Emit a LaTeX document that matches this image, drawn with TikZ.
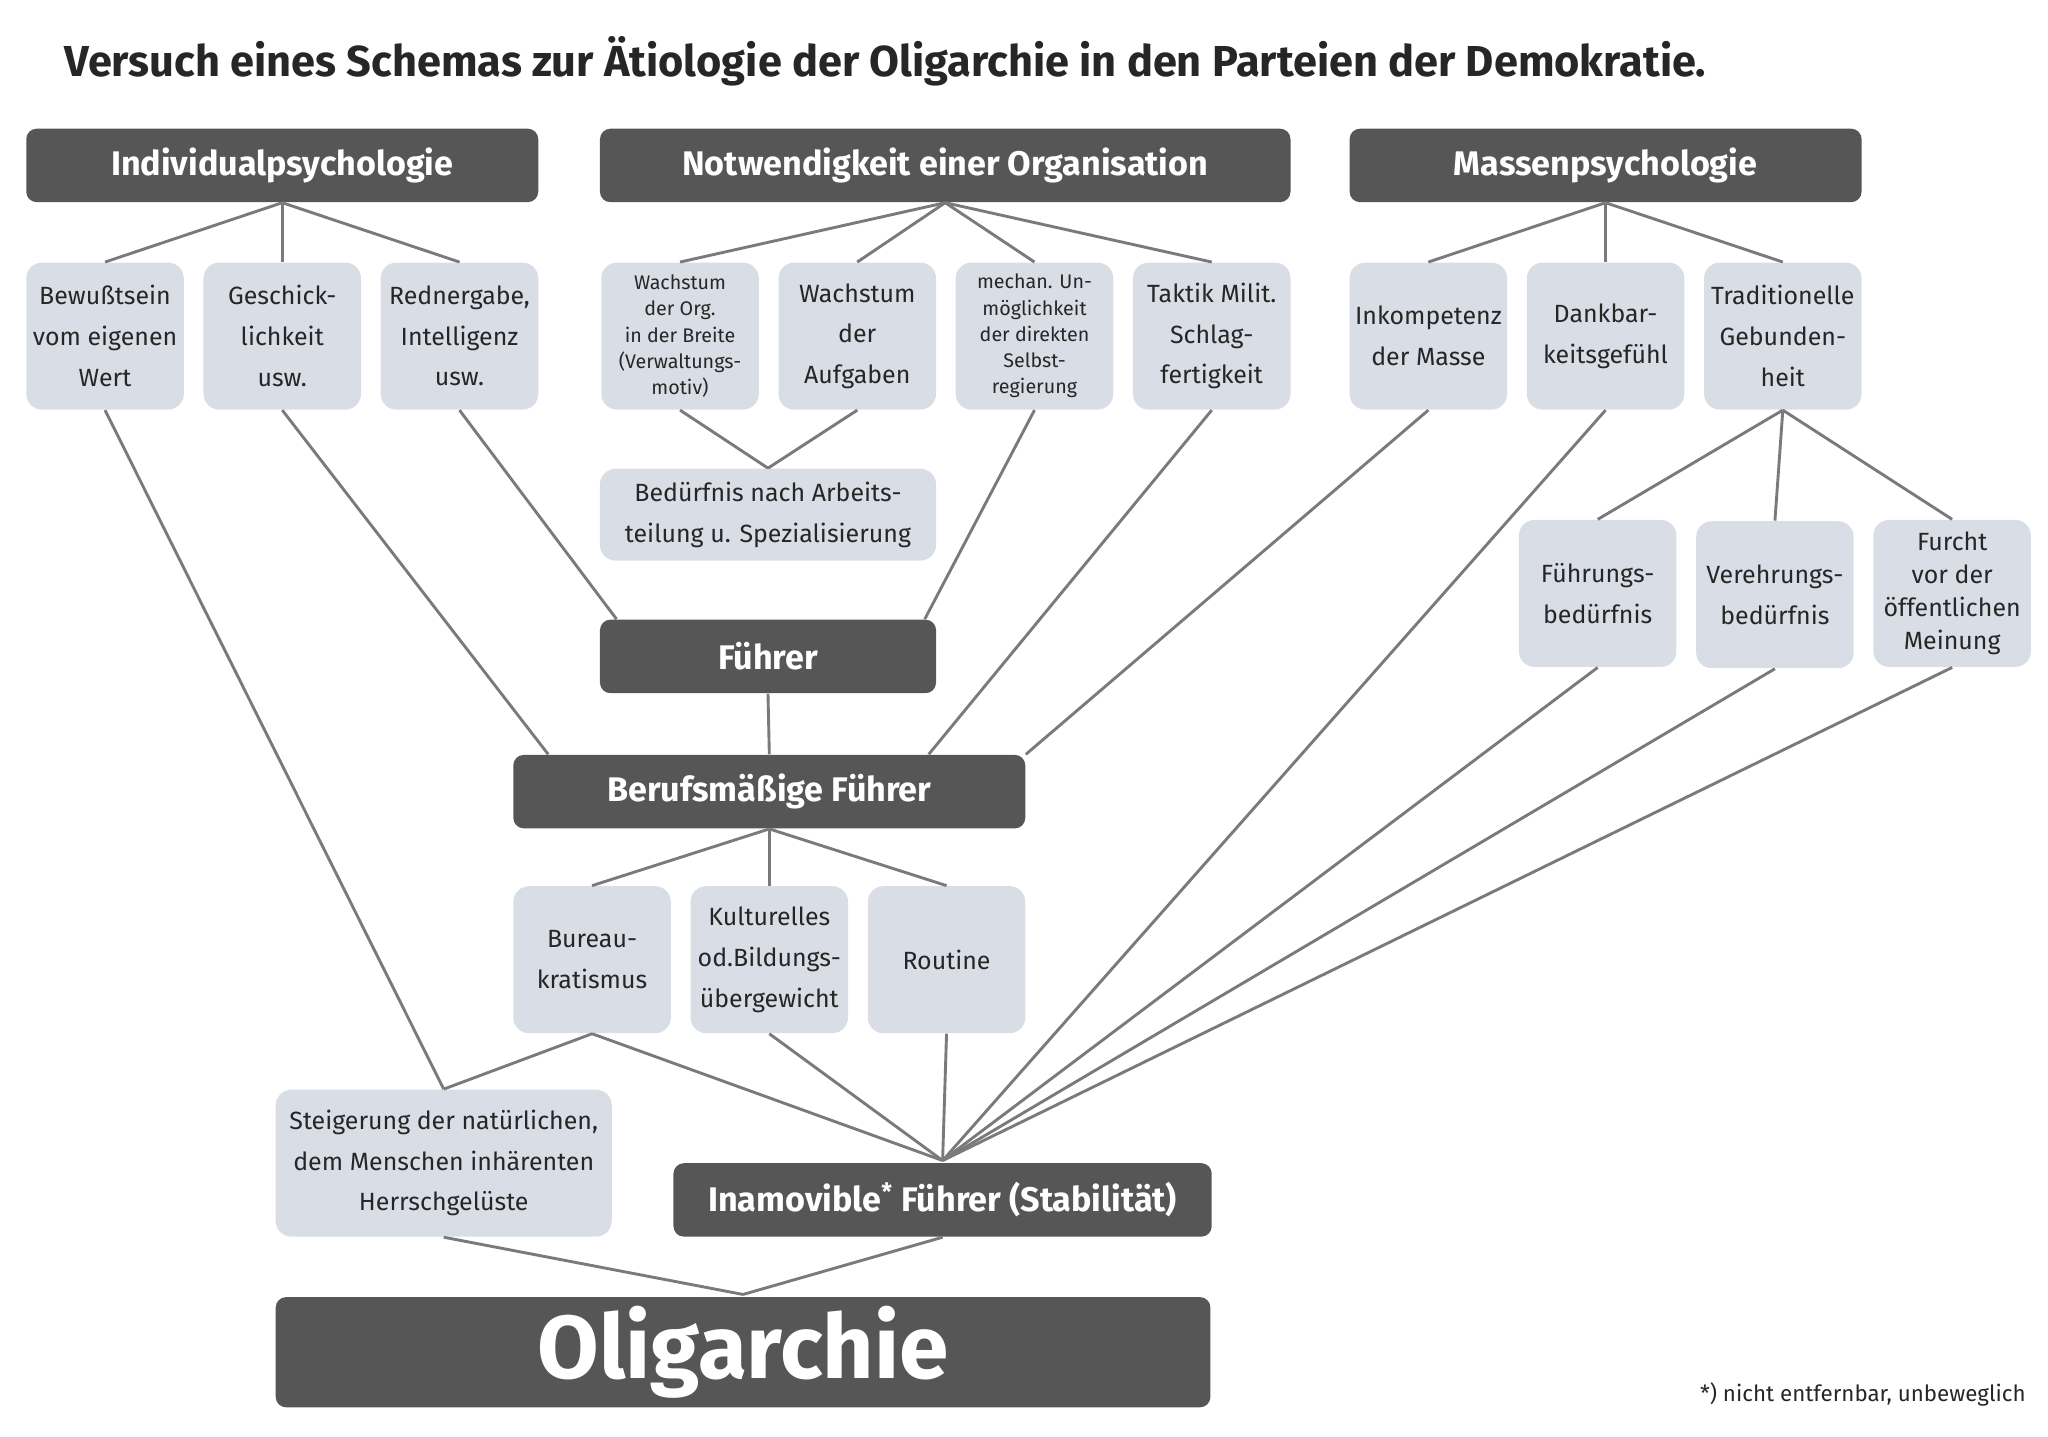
\documentclass[tikz,border=0pt]{standalone}
\usepackage{fontspec}
\setmainfont{Fira Sans}
\usetikzlibrary{positioning}
\definecolor{darkbox}{HTML}{565656}
\definecolor{lightbox}{HTML}{D9DDE5}
\definecolor{linegray}{HTML}{7A7A7A}

\tikzset{
  head/.style={fill=darkbox,text=white,rounded corners=4pt,minimum height=28pt,
    font=\fontsize{13}{15}\selectfont\bfseries,inner sep=0pt},
  item/.style={fill=lightbox,text=black!85,rounded corners=6pt,minimum width=60pt,
    minimum height=56pt,align=center,inner sep=1pt,font=\fontsize{9.5}{15.5}\selectfont},
  tiny/.style={item,font=\fontsize{7.5}{10}\selectfont},
  link/.style={draw=linegray,line width=1.1pt}
}

\begin{document}
\begin{tikzpicture}[x=0.5pt,y=-0.5pt]
      \useasboundingbox (0,0) rectangle (1560,1094);

      % Title
      \node[anchor=west,font=\fontsize{16.5}{18}\selectfont\bfseries,text=black!85]
        (title) at (42,47) {Versuch eines Schemas zur Ätiologie der Oligarchie in den Parteien der Demokratie.};

      % Headers
      \node[head,minimum width=195pt] (indiv) at (215,126) {Individualpsychologie};
      \node[head,minimum width=263pt] (notw) at (720,126) {Notwendigkeit einer Organisation};
      \node[head,minimum width=195pt] (masse) at (1223,126) {Massenpsychologie};

      % Row of causes
      \node[item] (bew) at (80,256) {Bewußtsein\\vom eigenen\\Wert};
      \node[item] (gesch) at (215,256) {Geschick-\\lichkeit\\usw.};
      \node[item] (redner) at (350,256) {Rednergabe,\\Intelligenz\\usw.};
      \node[tiny] (worg) at (518,256) {Wachstum\\der Org.\\in der Breite\\(Verwaltungs-\\motiv)};
      \node[item] (wauf) at (653,256) {Wachstum\\der\\Aufgaben};
      \node[tiny] (mechan) at (788,256) {mechan. Un-\\möglichkeit\\der direkten\\Selbst-\\regierung};
      \node[item] (taktik) at (923,256) {Taktik Milit.\\Schlag-\\fertigkeit};
      \node[item] (inkomp) at (1088,256) {Inkompetenz\\der Masse};
      \node[item] (dank) at (1223,256) {Dankbar-\\keitsgefühl};
      \node[item] (trad) at (1358,256) {Traditionelle\\Gebunden-\\heit};

      \node[item,minimum width=128pt,minimum height=35pt] (beduerf) at (585,392) {Bedürfnis nach Arbeits-\\teilung u. Spezialisierung};
      \node[head,minimum width=128pt] (fuehrer) at (585,500) {Führer};
      \node[head,minimum width=195pt] (beruf) at (586,603) {Berufsmäßige Führer};

      \node[item] (fbed) at (1217,452) {Führungs-\\bedürfnis};
      \node[item] (vbed) at (1352,453) {Verehrungs-\\bedürfnis};
      \node[item,font=\fontsize{9.5}{12.5}\selectfont] (furcht) at (1487,452) {Furcht\\vor der\\öffentlichen\\Meinung};

      \node[item] (bureau) at (451,731) {Bureau-\\kratismus};
      \node[item] (kultur) at (586,731) {Kulturelles\\od.Bildungs-\\übergewicht};
      \node[item] (routine) at (721,731) {Routine};

      \node[item,minimum width=128pt] (steig) at (338,886) {Steigerung der natürlichen,\\dem Menschen inhärenten\\Herrschgelüste};
      \node[head,minimum width=205pt] (inam) at (718,914) {Inamovible\textsuperscript{*} Führer (Stabilität)};
      \node[head,minimum width=356pt,minimum height=42pt,
        font=\fontsize{34}{36}\selectfont\bfseries] (olig) at (566,1030) {Oligarchie};

      \node[anchor=south east,font=\fontsize{8.5}{10}\selectfont,text=black!85]
        (note) at (1550,1078) {*) nicht entfernbar, unbeweglich};

      \coordinate (meet) at (718,884);
      \coordinate (oltop) at (566,986);

      % Connectors
      \foreach \n in {bew,gesch,redner}
        \draw[link] (indiv.south) -- (\n.north);
      \foreach \n in {worg,wauf,mechan,taktik}
        \draw[link] (notw.south) -- (\n.north);
      \foreach \n in {inkomp,dank,trad}
        \draw[link] (masse.south) -- (\n.north);
      \foreach \n in {fbed,vbed,furcht}
        \draw[link] (trad.south) -- (\n.north);
      \foreach \n in {bureau,kultur,routine}
        \draw[link] (beruf.south) -- (\n.north);

      \draw[link] (worg.south) -- (beduerf.north);
      \draw[link] (wauf.south) -- (beduerf.north);
      \draw[link] (redner.south) -- ([xshift=6.5pt]fuehrer.north west);
      \draw[link] (mechan.south) -- ([xshift=-4.5pt]fuehrer.north east);
      \draw[link] (fuehrer.south) -- (beruf.north);
      \draw[link] (gesch.south) -- ([xshift=13.5pt]beruf.north west);
      \draw[link] (taktik.south) -- ([xshift=-37pt]beruf.north east);
      \draw[link] (inkomp.south) -- (beruf.north east);

      \foreach \n in {bureau,kultur,routine,dank,fbed,vbed,furcht}
        \draw[link] (\n.south) -- (meet);
      \draw[link] (bureau.south) -- (steig.north);
      \draw[link] (bew.south) -- (steig.north);

      \draw[link] (steig.south) -- (oltop);
      \draw[link] (inam.south) -- (oltop);
\end{tikzpicture}
\end{document}
